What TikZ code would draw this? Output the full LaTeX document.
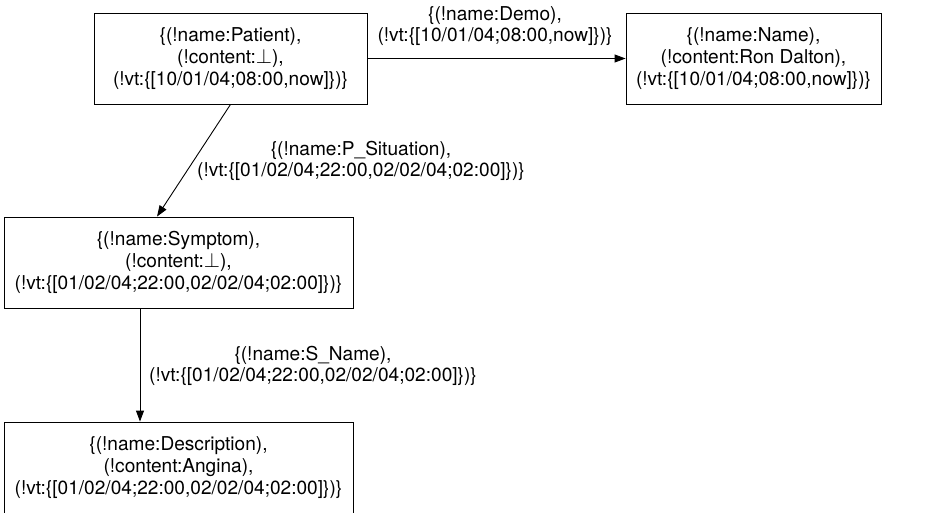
\documentclass[tikz,border=0pt]{standalone}
\usepackage{fontspec}
\setmainfont{TeX Gyre Heros}
\usetikzlibrary{arrows.meta}
\begin{document}
\begin{tikzpicture}[x=1pt,y=-1pt,
  every node/.style={font=\fontsize{19.1}{21.7}\selectfont, align=center, inner sep=0pt},
  elem/.style={draw, line width=0.9pt, minimum height=91pt},
  edge/.style={line width=0.9pt, -{Triangle[length=11pt,width=8pt]}},
  lbl/.style={}]
\useasboundingbox (0,0) rectangle (927,512);
\clip (0,0) rectangle (927,512);
\node[elem, minimum width=273pt] (pat) at (230.5,58.5)
  {\{(!name:Patient),\\(!content:$\perp$),\\(!vt:\{[10/01/04;08:00,now]\})\}};
\node[elem, minimum width=255pt] (nam) at (753.5,58.5)
  {\{(!name:Name),\\(!content:Ron Dalton),\\(!vt:\{[10/01/04;08:00,now]\})\}};
\node[elem, minimum width=349pt] (sym) at (178.5,262.5)
  {\{(!name:Symptom),\\(!content:$\perp$),\\(!vt:\{[01/02/04;22:00,02/02/04;02:00]\})\}};
\node[elem, minimum width=349pt] (des) at (178.5,467.5)
  {\{(!name:Description),\\(!content:Angina),\\(!vt:\{[01/02/04;22:00,02/02/04;02:00]\})\}};
\draw[edge] (pat.east) -- (nam.west);
\draw[edge] (pat.south) -- ([xshift=-21.5pt]sym.north);
\draw[edge] ([xshift=-38.5pt]sym.south) -- ([xshift=-38.5pt]des.north);
\node[lbl] (ldemo) at (495,26) {\{(!name:Demo),\\(!vt:\{[10/01/04;08:00,now]\})\}};
\node[lbl] (lpsit) at (361,161) {\{(!name:P\_Situation),\\(!vt:\{[01/02/04;22:00,02/02/04;02:00]\})\}};
\node[lbl] (lsnam) at (313,366) {\{(!name:S\_Name),\\(!vt:\{[01/02/04;22:00,02/02/04;02:00]\})\}};
\end{tikzpicture}
\end{document}
